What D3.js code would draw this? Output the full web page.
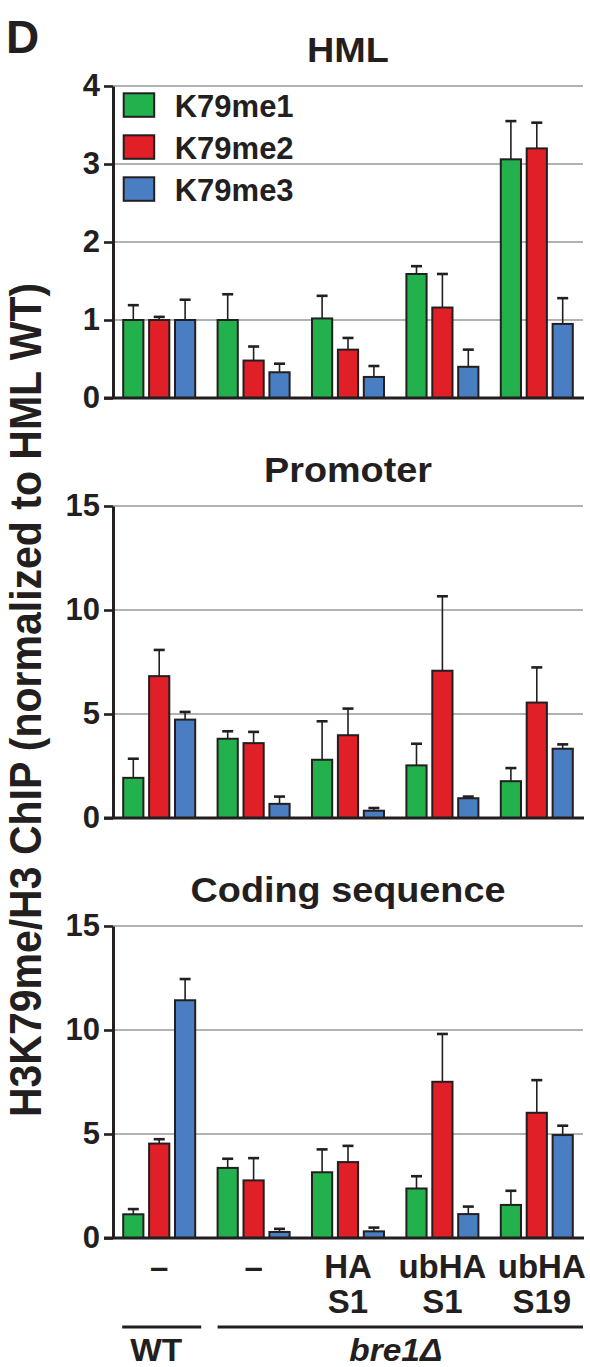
<!DOCTYPE html>
<html>
<head>
<meta charset="utf-8">
<script src="https://cdn.jsdelivr.net/npm/d3@7"></script>
<style>
  body { margin: 0; background: #fff; }
  text { font-family: "Liberation Sans", Arial, Helvetica, sans-serif; font-weight: bold; fill: #231f20; }
</style>
</head>
<body>
<div id="container"></div>
<script>
// data
const series = ["K79me1", "K79me2", "K79me3"];
const colors = ["#22b14c", "#e11f27", "#4a7ec2"];
const labelTop = ["\u2013", "\u2013", "HA", "ubHA", "ubHA"];
const labelBottom = ["", "", "S1", "S1", "S19"];
const panelTitles = ["HML", "Promoter", "Coding sequence"];

const hmlTicks = [0, 1, 2, 3, 4];
const hmlMeans = [
    [1.0, 1.0, 1.02, 1.59, 3.06],
    [1.0, 0.48, 0.62, 1.16, 3.2],
    [1.0, 0.33, 0.27, 0.40, 0.95]
];
const hmlErrs = [
    [0.19, 0.33, 0.29, 0.10, 0.49],
    [0.04, 0.18, 0.15, 0.43, 0.33],
    [0.26, 0.11, 0.14, 0.22, 0.33]
];

const promTicks = [0, 5, 10, 15];
const promMeans = [
    [1.93, 3.81, 2.8, 2.53, 1.77],
    [6.82, 3.6, 3.98, 7.08, 5.55],
    [4.73, 0.68, 0.35, 0.95, 3.33]
];
const promErrs = [
    [0.92, 0.36, 1.85, 1.04, 0.63],
    [1.26, 0.54, 1.28, 3.58, 1.69],
    [0.37, 0.35, 0.13, 0.08, 0.21]
];

const codTicks = [0, 5, 10, 15];
const codMeans = [
    [1.14, 3.37, 3.16, 2.38, 1.59],
    [4.54, 2.77, 3.65, 7.51, 6.02],
    [11.43, 0.29, 0.32, 1.15, 4.95]
];
const codErrs = [
    [0.25, 0.44, 1.10, 0.59, 0.68],
    [0.21, 1.07, 0.78, 2.30, 1.57],
    [1.02, 0.15, 0.18, 0.36, 0.45]
];

const panels = [
    { title: panelTitles[0], ticks: hmlTicks, means: hmlMeans, errs: hmlErrs },
    { title: panelTitles[1], ticks: promTicks, means: promMeans, errs: promErrs },
    { title: panelTitles[2], ticks: codTicks, means: codMeans, errs: codErrs }
];

const ink = "#231f20";
const panelTop = [86, 506, 926];
const panelH = 312;
const left = 113, right = 583;

const svg = d3.select("#container").append("svg")
    .attr("width", 590)
    .attr("height", 1367);

const x0 = d3.scaleBand()
    .domain(d3.range(labelTop.length))
    .range([left, right])
    .paddingInner(0.216)
    .paddingOuter(0.0975);

const x1 = d3.scaleBand()
    .domain(d3.range(series.length))
    .range([0, x0.bandwidth()])
    .paddingInner(0.143);

// the figure is a bit stretched sideways, so some text gets widened
function put(sel, x, y, sx) {
    return sel.attr("transform", `translate(${x},${y}) scale(${sx || 1.08},1)`);
}

put(svg.append("text").attr("font-size", 46).text("D"), 6, 53, 1);

panels.forEach(function(p, pi) {
    const top = panelTop[pi];
    const y = d3.scaleLinear()
        .domain([0, d3.max(p.ticks)])
        .range([top + panelH, top]);
    const g = svg.append("g");

    put(g.append("text")
        .attr("font-size", 35)
        .attr("text-anchor", "middle")
        .text(p.title), (left + right) / 2, top - 24);

    // grid
    g.selectAll(".grid")
        .data(p.ticks.filter(t => t > 0))
        .enter().append("line")
        .attr("x1", left).attr("x2", right)
        .attr("y1", d => y(d)).attr("y2", d => y(d))
        .attr("stroke", "#666")
        .attr("stroke-width", 1.2);

    const grp = g.selectAll(".grp")
        .data(d3.range(labelTop.length))
        .enter().append("g")
        .attr("transform", d => `translate(${x0(d)},0)`);

    const cells = grp.selectAll(".cell")
        .data(gi => series.map((s, si) => ({ si: si, v: p.means[si][gi], e: p.errs[si][gi] })))
        .enter().append("g");

    // error bars (upper only)
    cells.append("line")
        .attr("x1", d => x1(d.si) + x1.bandwidth() / 2)
        .attr("x2", d => x1(d.si) + x1.bandwidth() / 2)
        .attr("y1", d => y(d.v))
        .attr("y2", d => y(d.v + d.e))
        .attr("stroke", ink)
        .attr("stroke-width", 1.6);
    cells.append("line")
        .attr("x1", d => x1(d.si) + x1.bandwidth() / 2 - 5.5)
        .attr("x2", d => x1(d.si) + x1.bandwidth() / 2 + 5.5)
        .attr("y1", d => y(d.v + d.e))
        .attr("y2", d => y(d.v + d.e))
        .attr("stroke", ink)
        .attr("stroke-width", 2.6);

    cells.append("rect")
        .attr("x", d => x1(d.si) + 1)
        .attr("width", x1.bandwidth() - 2)
        .attr("y", d => y(d.v))
        .attr("height", d => y(0) - y(d.v))
        .attr("fill", d => colors[d.si])
        .attr("stroke", ink)
        .attr("stroke-width", 2);

    // y axis
    const axis = g.append("g")
        .attr("transform", `translate(${left},0)`)
        .call(d3.axisLeft(y)
            .tickValues(p.ticks)
            .tickFormat(d3.format("d"))
            .tickSize(9).tickSizeOuter(0).tickPadding(4));
    axis.select(".domain").attr("stroke", ink).attr("stroke-width", 3);
    axis.selectAll(".tick line").attr("stroke", ink).attr("stroke-width", 2.6);
    axis.selectAll(".tick text")
        .attr("font-size", 31)
        .attr("fill", ink);

    // baseline
    g.append("line")
        .attr("x1", left - 9).attr("x2", right + 1)
        .attr("y1", y(0)).attr("y2", y(0))
        .attr("stroke", ink)
        .attr("stroke-width", 3.2);

    if (pi === 0) {
        const lg = g.selectAll(".leg")
            .data(series)
            .enter().append("g")
            .attr("transform", (d, i) => `translate(123.7,${93.3 + i * 42})`);
        lg.append("rect")
            .attr("width", 30.5).attr("height", 23.5)
            .attr("fill", (d, i) => colors[i])
            .attr("stroke", ink)
            .attr("stroke-width", 2);
        lg.append("text")
            .attr("x", 51)
            .attr("y", 23.4)
            .attr("font-size", 31)
            .text(d => d);
    }
});

// x labels under the last panel
const lab = svg.append("g");
labelTop.forEach(function(t, i) {
    const cx = x0(i) + x0.bandwidth() / 2 + (i === 4 ? 5 : 0);
    put(lab.append("text").attr("font-size", 33).attr("text-anchor", "middle").text(t), cx, 1278, 1);
    if (labelBottom[i]) {
        put(lab.append("text").attr("font-size", 33).attr("text-anchor", "middle").text(labelBottom[i]), cx, 1313, 1);
    }
});

// strain brackets
lab.append("line")
    .attr("x1", x0(0)).attr("x2", x0(0) + x0.bandwidth() + 5)
    .attr("y1", 1327).attr("y2", 1327)
    .attr("stroke", ink).attr("stroke-width", 3);
lab.append("line")
    .attr("x1", x0(1) + 1).attr("x2", right)
    .attr("y1", 1327).attr("y2", 1327)
    .attr("stroke", ink).attr("stroke-width", 3);
put(lab.append("text").attr("font-size", 31).attr("text-anchor", "middle").text("WT"),
    x0(0) + x0.bandwidth() / 2 - 3, 1361);
put(lab.append("text").attr("font-size", 31).attr("text-anchor", "middle")
    .attr("font-style", "italic").text("bre1\u0394"),
    (x0(1) + right) / 2 - 4, 1361);

// y axis title
svg.append("text")
    .attr("font-size", 41)
    .attr("text-anchor", "middle")
    .attr("transform", "translate(41,700) scale(1.1,1) rotate(-90)")
    .text("H3K79me/H3 ChIP (normalized to HML WT)");
</script>
</body>
</html>
